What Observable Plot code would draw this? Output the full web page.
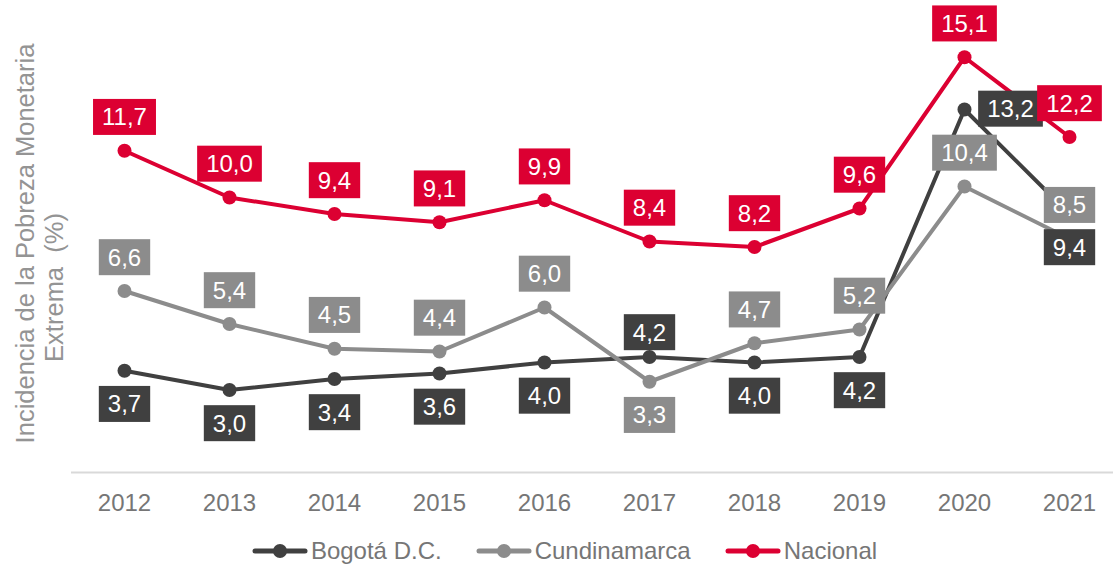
<!DOCTYPE html>
<html><head><meta charset="utf-8">
<script src="https://cdn.jsdelivr.net/npm/d3@7"></script>
<script src="https://cdn.jsdelivr.net/npm/@observablehq/plot@0.6"></script>
<style>
body{margin:0;background:#fff;font-family:"Liberation Sans",Arial,sans-serif;}
#chart svg{display:block;}
#legend{display:flex;justify-content:center;align-items:center;height:32px;padding-top:10px;padding-left:16px;font-size:24px;color:#767676;width:1097px;}
.item{display:flex;align-items:center;margin:0 17px;}
.item svg{margin-right:3px;display:block;}
</style></head><body>
<div id="chart"></div>
<div id="legend"></div>
<script>
const years = ["2012","2013","2014","2015","2016","2017","2018","2019","2020","2021"];
const bogota = [3.7, 3.0, 3.4, 3.6, 4.0, 4.2, 4.0, 4.2, 13.2, 9.4];
const cundinamarca = [6.6, 5.4, 4.5, 4.4, 6.0, 3.3, 4.7, 5.2, 10.4, 8.5];
const nacional = [11.7, 10.0, 9.4, 9.1, 9.9, 8.4, 8.2, 9.6, 15.1, 12.2];
const seriesNames = ["Bogotá D.C.", "Cundinamarca", "Nacional"];
const yLabelLines = ["Incidencia de la Pobreza Monetaria", "Extrema  (%)"];

// label placement keys (layout, kept apart from the values)
const bogotaPlacement = ["below","below","below","below","below","aboveNear","below","below","right","below"];
const cundinamarcaPlacement = ["above","above","above","above","above","below","above","above","above","above"];
const nacionalPlacement = ["above","above","above","above","above","above","above","above","above","above"];

const colors = ["#404040", "#8C8C8C", "#DC0032"];
const offsets = {above:{dx:0,dy:-33}, aboveNear:{dx:0,dy:-24}, below:{dx:0,dy:34}, right:{dx:46,dy:0}};

const allValues = [bogota, cundinamarca, nacional];
const allPlacement = [bogotaPlacement, cundinamarcaPlacement, nacionalPlacement];
const rows = [];
allValues.forEach((vals, s) => vals.forEach((v, i) => rows.push({year: years[i], value: v, series: seriesNames[s], si: s, place: allPlacement[s][i]})));

const fmt = d => d.value.toFixed(1).replace(".", ",");

const marks = [];
marks.push(Plot.ruleY([0], {stroke: "#D9D9D9", strokeWidth: 2}));
seriesNames.forEach((name, s) => {
  const d = rows.filter(r => r.si === s);
  marks.push(Plot.line(d, {x: "year", y: "value", stroke: colors[s], strokeWidth: 4}));
  marks.push(Plot.dot(d, {x: "year", y: "value", fill: colors[s], r: 7}));
});
seriesNames.forEach((name, s) => {
  Object.keys(offsets).forEach(key => {
    const d = rows.filter(r => r.si === s && r.place === key);
    if (!d.length) return;
    marks.push(Plot.text(d, {x: "year", y: "value", text: fmt, fill: "white", stroke: colors[s], strokeWidth: 0, fontSize: 24,
      dx: offsets[key].dx, dy: offsets[key].dy}));
  });
});
marks.push(Plot.text([yLabelLines[0]], {frameAnchor: "left", textAnchor: "middle", rotate: -90, fontSize: 25.5, fill: "#949494", dx: -46, dy: -9}));
marks.push(Plot.text([yLabelLines[1]], {frameAnchor: "left", textAnchor: "middle", rotate: -90, fontSize: 25.5, fill: "#949494", dx: -17, dy: 35}));
marks.push(Plot.axisX({tickSize: 0, tickPadding: 21, fontSize: 24, fill: "#767676", label: null}));

const chart = Plot.plot({
  width: 1113,
  height: 525,
  marginLeft: 71,
  marginRight: 0,
  marginTop: 32,
  marginBottom: 53,
  style: {fontFamily: '"Liberation Sans", Arial, sans-serif', background: "white", overflow: "visible"},
  x: {type: "point", domain: years, range: [123, 1069], padding: 0, label: null},
  y: {domain: [0, 16], axis: null},
  marks
});
document.getElementById("chart").appendChild(chart);

// boxes behind data labels (the label group carries its series colour as a zero-width stroke)
chart.querySelectorAll('g[fill="white"]').forEach(g => {
  const col = g.getAttribute("stroke");
  if (!col || !colors.includes(col)) return;
  g.querySelectorAll("text").forEach(t => {
    const b = t.getBBox();
    const w = b.width + 18, h = 36;
    const r = document.createElementNS("http://www.w3.org/2000/svg", "rect");
    r.setAttribute("x", b.x + b.width / 2 - w / 2);
    r.setAttribute("y", b.y + b.height / 2 - h / 2);
    r.setAttribute("width", w);
    r.setAttribute("height", h);
    r.setAttribute("fill", col);
    r.setAttribute("stroke", "none");
    const tr = t.getAttribute("transform");
    if (tr) r.setAttribute("transform", tr);
    t.parentNode.insertBefore(r, t);
  });
});

// legend
const legend = document.getElementById("legend");
seriesNames.forEach((name, s) => {
  const item = document.createElement("div");
  item.className = "item";
  item.innerHTML = `<svg width="56" height="16"><line x1="3" x2="53" y1="8" y2="8" stroke="${colors[s]}" stroke-width="5" stroke-linecap="round"/><circle cx="28" cy="8" r="7" fill="${colors[s]}"/></svg><span>${name}</span>`;
  legend.appendChild(item);
});
</script>
</body></html>
